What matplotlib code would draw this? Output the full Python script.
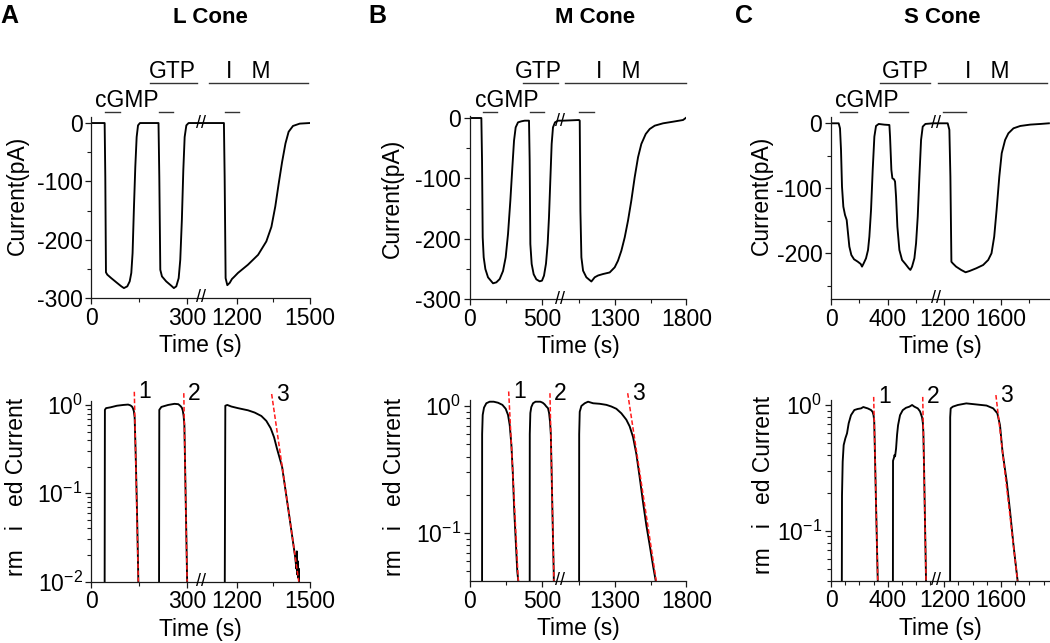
import numpy as np
import matplotlib
matplotlib.use('Agg')
import matplotlib.pyplot as plt
import matplotlib.transforms as mtransforms
from matplotlib.ticker import NullFormatter

plt.rcParams['font.family'] = ['Liberation Sans', 'DejaVu Sans']
plt.rcParams['mathtext.fontset'] = 'custom'
plt.rcParams['mathtext.rm'] = 'Liberation Sans'
plt.rcParams['axes.unicode_minus'] = False

nan = np.nan

# ---------------- L cone ----------------
l_time = [0, 41.7, 43.75, 45.8, 50, 62.5, 78, 93.75, 102, 112.5, 120, 125, 129, 133, 137.5,
          141.7, 146, 152, 210, 212.5, 215.6, 220.8, 234, 250, 258, 265.6, 273, 278, 283,
          287.5, 291.7, 297, 304, 1060, 1146, 1149, 1153, 1160, 1170, 1179, 1190, 1204,
          1245, 1287, 1321, 1342, 1358, 1372, 1386, 1400, 1413, 1431, 1459, 1500]
l_curr = [0, 0, -92, -256, -260, -266, -273, -280, -283, -280, -271.5, -257, -223, -149, -75,
          -24, -4, 0, 0, -92, -251.6, -263, -271.5, -279, -283, -280, -266, -234.5, -166,
          -81, -24, -4, 0, 0, 0, -92, -266, -278, -274, -267.5, -263, -257,
          -243, -226, -203, -178, -143, -104, -67, -35, -15, -5, -1, 0]
l_norm_time = [41.5, 42.5, 46, 60, 80, 100, 115, 122, 127, 130, 133, 135.5, 138.4, 141.6, 144.6, 147, 148, nan,
               211.5, 212.5, 219, 240, 260, 272, 279, 283, 286, 288.5, 290.8, 292.3, 294.6, 297.2, 299.5, 300.5, nan,
               1149, 1151.8, 1160, 1176.6, 1204, 1245.4, 1273, 1300.5, 1321, 1339, 1353, 1365, 1386, 1402,
               1418, 1432, 1440, 1445, 1447, 1449, 1451, 1453, 1455, 1457, 1460]
l_norm = [0.003, 0.88, 0.92, 0.94, 0.98, 1.0, 1.01, 0.99, 0.96, 0.92, 0.85, 0.72, 0.3, 0.1, 0.03, 0.01, 0.005, nan,
          0.003, 0.88, 0.95, 1.0, 1.03, 1.02, 0.97, 0.93, 0.86, 0.75, 0.6, 0.3, 0.1, 0.03, 0.01, 0.005, nan,
          0.003, 0.98, 1.0, 0.96, 0.92, 0.87, 0.82, 0.75, 0.66, 0.545, 0.43, 0.32, 0.2, 0.1,
          0.05, 0.027, 0.019, 0.014, 0.022, 0.012, 0.017, 0.011, 0.014, 0.008, 0.005]
l_fit_time = [[134.4, 147.0], [289.0, 299.5], [1343, 1455]]
l_fit_norm = [[1.41, 0.01], [1.36, 0.01], [1.33, 0.01]]
l_bars = [(43, 90), (211.5, 255), (1150.5, 1208)]
l_gtp = (183, 331)
l_ibmx = (1084, 1493)
l_text_t = (112, 252, 1247)          # cGMP, GTP, IBMX label centres

# ---------------- M cone ----------------
m_time = [0, 80.6, 85.3, 89.9, 96.8, 108.3, 126.7, 161.3, 184.3, 207.4, 230.4, 248.8, 265, 281.1,
          294.9, 306.5, 318, 334.1, 357.1, 380.2, 410.1, 414.7, 419.4, 428.6, 442.4, 460.8, 483.9,
          500, 513.8, 527.6, 539.2, 548.4, 557.6, 566.8, 576, 589.9, 610.6, 920.9, 939.5, 1051,
          1055.8, 1060.5, 1067.4, 1079, 1102, 1137, 1160.5, 1184, 1218.6, 1265, 1300, 1323, 1346.5,
          1370, 1393, 1416, 1439.5, 1463, 1486, 1516.7, 1544.6, 1579.5, 1637.6, 1707.5, 1777.3, 1795.9]
m_curr = [0, 0, -70.7, -197.8, -230.9, -250.3, -264.1, -274, -272.4, -266.9, -253.6, -230.9, -192.3, -137,
          -81.8, -37.6, -15.5, -7.2, -5.5, -4.4, -4.4, -70.7, -208.8, -242, -259, -267.4, -270.7,
          -269.6, -261.3, -241.4, -208.3, -164, -103, -43, -15.5, -7.2, -4.4, -4.4, -4.4, -3.3,
          -4.4, -154, -231, -253, -264, -271, -264, -261, -258.6, -256, -247.5, -236.5, -220,
          -197.8, -170, -137, -98.3, -65, -43, -26.5, -18.2, -12.7, -8.8, -6.1, -3.3, 0]
m_norm_time = [85.3, 86, 89.9, 99, 115, 138, 166, 196, 226, 249, 265, 276.5, 288, 298, 308, 320, 329, 336, 337, nan,
               414.7, 415.5, 419.4, 426, 438, 455, 488.5, 505, 518, 530, 541.5, 549, 555, 561, 566.6, 572, 577, 581, 583, nan,
               1051, 1052, 1055.8, 1067.4, 1090.7, 1114, 1149, 1195.5, 1241.9, 1276.7, 1311.6, 1346.5, 1381,
               1404.7, 1428, 1451, 1474, 1497.7, 1521, 1544.6, 1568, 1586.5, 1592]
m_norm = [0.01, 0.6, 0.85, 0.97, 1.05, 1.08, 1.08, 1.06, 1.02, 0.95, 0.85, 0.71, 0.5, 0.3, 0.15, 0.08, 0.05, 0.042, 0.03, nan,
          0.01, 0.6, 0.88, 0.98, 1.05, 1.08, 1.08, 1.06, 1.03, 0.99, 0.96, 0.88, 0.76, 0.6, 0.3, 0.15, 0.08, 0.05, 0.03, nan,
          0.01, 0.6, 0.90, 1.0, 1.05, 1.08, 1.05, 1.04, 1.02, 0.99, 0.95, 0.875, 0.78,
          0.69, 0.57, 0.42, 0.277, 0.175, 0.115, 0.08, 0.055, 0.042, 0.035]
m_fit_time = [[269.5, 336], [555, 582.6], [1390.7, 1590]]
m_fit_norm = [[1.30, 0.042], [1.26, 0.042], [1.26, 0.042]]
m_bars = [(90, 191), (417, 515.6), (1053, 1155.5)]
m_gtp = (366, 612)
m_ibmx = (953, 1804.5)
m_text_t = (258, 475.5, 1323)

# ---------------- S cone ----------------
s_time = [0, 54.1, 63.5, 70.6, 77.6, 87, 98.8, 110.6, 120, 129.4, 143.5, 162.4, 188.2, 209.4, 218.8,
          230.6, 247, 261.2, 270.6, 282.4, 294.1, 305.9, 317.6, 336.5, 376.5, 411.8, 416.5, 425.9,
          432.9, 444.7, 451.8, 458.8, 468.2, 482.4, 501.2, 524.7, 548.2, 560, 571.8, 588.2, 600,
          611.8, 623.5, 635.3, 647, 665.9, 717.6, 1140.5, 1223.8, 1235.7, 1242.9, 1250, 1259.5,
          1283, 1319, 1350, 1378.6, 1426, 1474, 1509.5, 1533, 1552, 1569, 1588, 1605, 1629, 1652,
          1688, 1736, 1807, 1879, 1938]
s_curr = [0, 0, -7.7, -41, -97.4, -128.2, -141, -148.7, -169.2, -189.7, -202.6, -209.2, -212.8, -216.4, -220.5,
          -215.4, -207.7, -194.9, -174.4, -133.3, -71.8, -20.5, -4.1, -1, -2.1, -2.6, -20.5, -71.8,
          -84.6, -86.2, -89.7, -112.8, -159, -194.9, -210.3, -216.4, -223, -225.6, -220.5, -207.7, -184.6,
          -143.6, -82, -25.6, -5.1, -1, 0, 0, 0, -10, -82, -213, -215.4,
          -220.5, -225.6, -229.2, -227.2, -223, -218, -210.3, -200, -174.4, -133.3, -82, -46, -25.6, -15.4,
          -7.7, -4.1, -2, -1, 0]
s_norm_time = [75.3, 77.6, 82.4, 89.4, 101.2, 113, 124.7, 141, 164.7, 188.2, 211.8, 228, 242.4, 258.8, 282.4, 294,
               300, 304.8, 308.3, 315.9, 321.8, 327.8, 331, nan,
               436, 437.5, 444, 448, 452, 459, 466, 473, 487, 506, 529, 553, 572, 588, 612, 628, 642, 648,
               651.6, 656.8, 664.1, 668.9, 672, nan,
               1240.5, 1241.5, 1245, 1260, 1295, 1355, 1426, 1498, 1545, 1574, 1593, 1610.6, 1640.5, 1664,
               1688, 1707, 1717, 1720]
s_norm = [0.01, 0.19, 0.354, 0.48, 0.543, 0.595, 0.715, 0.83, 0.912, 0.93, 0.94, 0.964, 0.952, 0.94, 0.912, 0.88,
          0.83, 0.75, 0.5, 0.2, 0.1, 0.05, 0.035, nan,
          0.005, 0.36, 0.38, 0.40, 0.39, 0.45, 0.58, 0.69, 0.83, 0.91, 0.95, 0.97, 1.0, 0.97, 0.94, 0.89, 0.8, 0.72,
          0.6, 0.3, 0.1, 0.05, 0.03, nan,
          0.005, 0.8, 0.94, 0.97, 1.0, 1.03, 1.01, 0.99, 0.94, 0.86, 0.69, 0.425, 0.245, 0.142,
          0.077, 0.05, 0.04, 0.03]
s_fit_time = [[301, 330], [647, 670.5], [1564, 1716.7]]
s_fit_norm = [[1.16, 0.04], [1.16, 0.04], [1.2, 0.04]]
s_bars = [(63.5, 185.6), (409, 545.5), (1193, 1353)]
s_gtp = (346, 699)
s_ibmx = (1157.7, 1922.7)
s_text_t = (250.5, 522, 1501)

W, H = 1050, 643


def box(l, r, t, b):
    return [l / W, 1 - b / H, (r - l) / W, (b - t) / H]


def broken_scale(a, b, f, xmax):
    # piecewise-linear time axis with a gap between a and b
    xp = np.array([0.0, a, b, xmax])
    up = np.array([0.0, f, f + 1e-6, 1.0])
    return (lambda t: np.interp(t, xp, up), lambda u: np.interp(u, up, xp))


panels = [
    dict(letter='A', title='L Cone', lx=0, tx=210,
         top=box(91.3, 309.7, 117.2, 298), bot=box(91.3, 309.7, 401.3, 581.6),
         brk=(343.75, 1052.7, 0.5037, 1500), ylim=(-300, 10), nlim=(0.01, 1.1),
         xt=[0, 300, 1200, 1500], xm=[150, 1350], xm_bot=[150, 1350],
         yt=[0, -100, -200, -300], ym=[-50, -150, -250],
         lab_top=(-0.286, 0.565), lab_bot=(-0.29, 0.526), brk_y=0,
         t=l_time, i=l_curr, nt=l_norm_time, n=l_norm, ft=l_fit_time, fn=l_fit_norm,
         bars=l_bars, gtp=l_gtp, ibmx=l_ibmx, tt=l_text_t),
    dict(letter='B', title='M Cone', lx=368, tx=595,
         top=box(469.7, 686.3, 116.2, 299), bot=box(469.7, 686.3, 399.7, 580.9),
         brk=(624.5, 918, 0.4169, 1800), ylim=(-300, 3), nlim=(0.042, 1.12),
         xt=[0, 500, 1300, 1800], xm=[250, 1050, 1550], xm_bot=[250, 1050, 1550],
         yt=[0, -100, -200, -300], ym=[-50, -150, -250],
         lab_top=(-0.303, 0.551), lab_bot=(-0.293, 0.52), brk_y=-5,
         t=m_time, i=m_curr, nt=m_norm_time, n=m_norm, ft=m_fit_time, fn=m_fit_norm,
         bars=m_bars, gtp=m_gtp, ibmx=m_ibmx, tt=m_text_t),
    dict(letter='C', title='S Cone', lx=735, tx=942,
         top=box(831, 1049.9, 116.8, 298.8), bot=box(831, 1049.9, 399.8, 580.7),
         brk=(740.7, 1141.4, 0.4797, 1945), ylim=(-270, 10), nlim=(0.04, 1.1),
         xt=[0, 400, 1200, 1600], xm=[200, 600, 1400, 1800],
         xm_bot=[100, 200, 300, 500, 600, 700, 1300, 1400, 1500, 1700, 1800, 1900],
         yt=[0, -100, -200], ym=[-50, -150, -250],
         lab_top=(-0.267, 0.566), lab_bot=(-0.257, 0.529), brk_y=0,
         t=s_time, i=s_curr, nt=s_norm_time, n=s_norm, ft=s_fit_time, fn=s_fit_norm,
         bars=s_bars, gtp=s_gtp, ibmx=s_ibmx, tt=s_text_t),
]

fig = plt.figure(figsize=(10.5, 6.43), dpi=100)
FS = 16.5
ink = '#1a1a1a'


def style(ax):
    for s in ['top', 'right']:
        ax.spines[s].set_visible(False)
    for s in ['left', 'bottom']:
        ax.spines[s].set_linewidth(0.9)
        ax.spines[s].set_color(ink)
    ax.tick_params(which='major', direction='out', length=4.3, width=0.9, pad=2,
                   labelsize=FS, color=ink)
    ax.tick_params(which='minor', direction='out', length=2.8, width=0.8, color=ink)


for p in panels:
    a, b, f, xmax = p['brk']
    fwd, inv = broken_scale(a, b, f, xmax)

    # ---- raw current ----
    ax = fig.add_axes(p['top'])
    ax.set_xscale('function', functions=(fwd, inv))
    ax.plot(p['t'], p['i'], color='black', lw=1.35)
    ax.set_xlim(0, xmax)
    ax.set_ylim(*p['ylim'])
    ax.set_xticks(p['xt'])
    ax.set_xticks(p['xm'], minor=True)
    ax.set_yticks(p['yt'])
    ax.set_yticks(p['ym'], minor=True)
    ax.xaxis.set_minor_formatter(NullFormatter())
    style(ax)
    ax.set_xlabel('Time (s)', fontsize=FS, labelpad=3)
    ax.set_ylabel('Current(pA)', fontsize=FS)
    ax.yaxis.set_label_coords(*p['lab_top'])
    ax.text(f, 0, '//', transform=ax.transAxes, ha='center', va='center', fontsize=13)
    ax.text(f, p['brk_y'], '//', transform=ax.get_yaxis_transform(), ha='center',
            va='center', fontsize=13)

    # solution bars above the trace
    tr = mtransforms.blended_transform_factory(ax.transData, fig.transFigure)
    for t0, t1 in p['bars']:
        ax.plot([t0, t1], [0.8253, 0.8253], transform=tr, clip_on=False, color='#333333', lw=1)
    for seg in (p['gtp'], p['ibmx']):
        ax.plot(seg, [0.8714, 0.8714], transform=tr, clip_on=False, color='#333333', lw=1)
    ax.text(p['tt'][0], 0.8331, 'cGMP', transform=tr, ha='center', va='baseline', fontsize=FS)
    ax.text(p['tt'][1], 0.8782, 'GTP', transform=tr, ha='center', va='baseline', fontsize=FS)
    ax.text(p['tt'][2], 0.8782, 'I   M', transform=tr, ha='center', va='baseline', fontsize=FS)

    # ---- normalised current, log scale ----
    bx = fig.add_axes(p['bot'])
    bx.set_xscale('function', functions=(fwd, inv))
    bx.set_yscale('log')
    bx.plot(p['nt'], p['n'], color='black', lw=1.35)
    for k, (ft, fn) in enumerate(zip(p['ft'], p['fn'])):
        bx.plot(ft, fn, color='#ff1a1a', lw=1.1, ls=(0, (3, 1.5)), clip_on=False)
        bx.annotate(str(k + 1), (ft[0], fn[0]), xytext=(3, 0), textcoords='offset points',
                    ha='left', va='center', fontsize=FS, annotation_clip=False)
    bx.set_xlim(0, xmax)
    bx.set_ylim(*p['nlim'])
    bx.set_xticks(p['xt'])
    bx.set_xticks(p['xm_bot'], minor=True)
    bx.xaxis.set_minor_formatter(NullFormatter())
    bx.yaxis.set_minor_formatter(NullFormatter())
    style(bx)
    bx.set_xlabel('Time (s)', fontsize=FS, labelpad=3)
    bx.set_ylabel('rm   i   ed Current', fontsize=FS)
    bx.yaxis.set_label_coords(*p['lab_bot'])
    bx.text(f, 0, '//', transform=bx.transAxes, ha='center', va='center', fontsize=13)

    fig.text(p['lx'] / W, 1 - 23.3 / H, p['letter'], ha='left', va='baseline',
             fontsize=18, fontweight='bold')
    fig.text(p['tx'] / W, 1 - 23.3 / H, p['title'], ha='center', va='baseline',
             fontsize=16, fontweight='bold')

fig.savefig('out.png', dpi=100)
